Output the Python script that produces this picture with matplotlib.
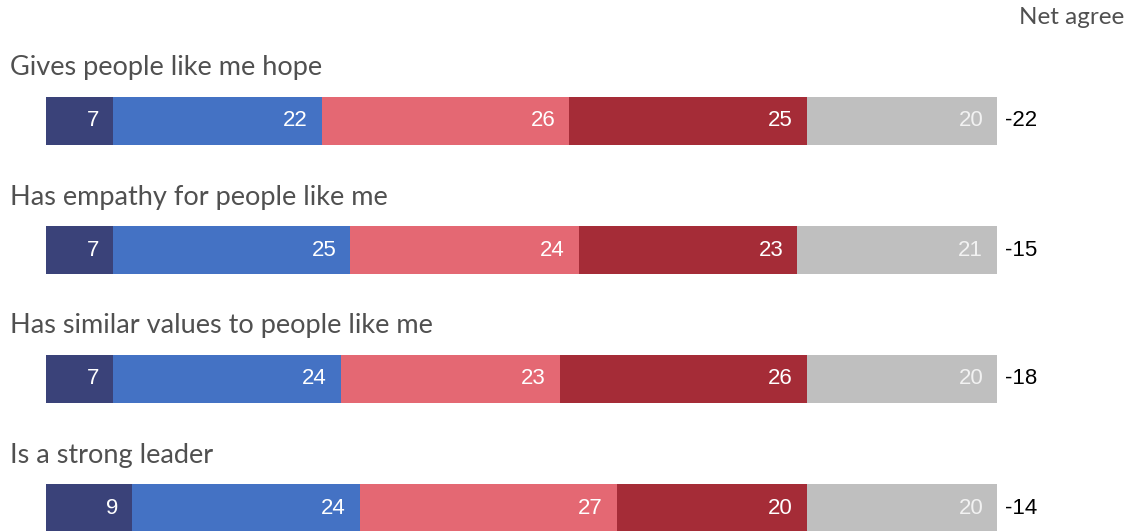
import matplotlib
matplotlib.use("Agg")
import matplotlib.pyplot as plt
from matplotlib.transforms import blended_transform_factory

# Survey statements and response shares (%)
statements = [
    "Gives people like me hope",
    "Has empathy for people like me",
    "Has similar values to people like me",
    "Is a strong leader",
]
strongly_agree = [7, 7, 7, 9]
tend_to_agree = [22, 25, 24, 24]
tend_to_disagree = [26, 24, 23, 27]
strongly_disagree = [25, 23, 26, 20]
dont_know = [20, 21, 20, 20]
net_agree = [-22, -15, -18, -14]

series = [strongly_agree, tend_to_agree, tend_to_disagree, strongly_disagree, dont_know]
colors = ["#3a4279", "#4472c4", "#e46873", "#a52c37", "#bfbfbf"]
text_colors = ["white", "white", "white", "white", "#f2f2f2"]

W, H = 1130, 531
fig = plt.figure(figsize=(W / 100, H / 100), dpi=100)
fig.patch.set_facecolor("white")

# Bars occupy x pixels 46..997; rows are 129 px apart starting at y=121
x0, x1 = 46, 997
row0, step = 121, 129
ax = fig.add_axes([x0 / W, 0, (x1 - x0) / W, 1])
ax.set_xlim(0, 100)
ax.set_ylim((H - row0) / step, -row0 / step)
ax.axis("off")

label_font = dict(family=["Lato", "DejaVu Sans"], weight="normal")
num_font = dict(family=["Liberation Sans", "DejaVu Sans"])

ypos = list(range(len(statements)))
left = [0] * len(statements)
for vals, col, tcol in zip(series, colors, text_colors):
    ax.barh(ypos, vals, left=left, height=48 / step, color=col, edgecolor="none")
    for i, v in enumerate(vals):
        ax.text(left[i] + v - 1.45, i, f"{v}", ha="right", va="center",
                color=tcol, fontsize=16, **num_font)
    left = [l + v for l, v in zip(left, vals)]

fig_x = blended_transform_factory(fig.transFigure, ax.transData)
for i, (name, net) in enumerate(zip(statements, net_agree)):
    ax.text(10 / W, i - 53 / step, name, transform=fig_x, ha="left", va="center",
            color="#505050", fontsize=19.5, clip_on=False, **label_font)
    ax.text(1005 / W, i, f"{net}", transform=fig_x, ha="left", va="center",
            color="black", fontsize=16, clip_on=False, **num_font)

fig.text(1124 / W, 1 - 18 / H, "Net agree", ha="right", va="center",
         color="#505050", fontsize=17.5, **label_font)

fig.savefig("out.png", dpi=100, facecolor="white")
